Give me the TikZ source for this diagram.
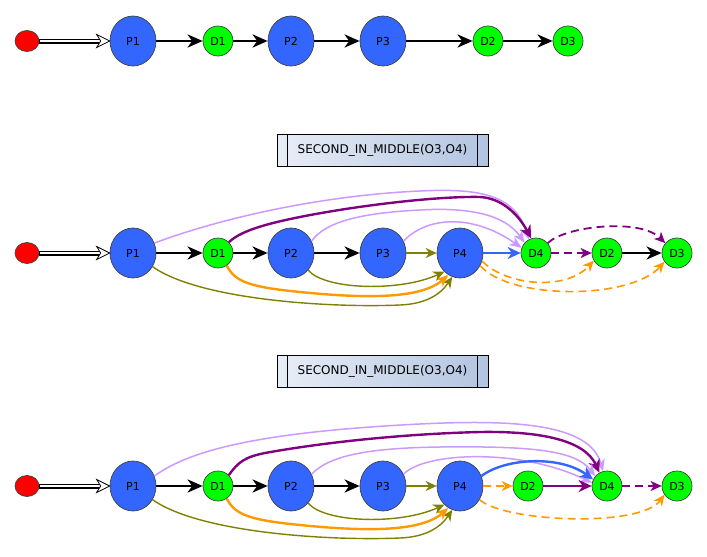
\documentclass[tikz,border=0pt]{standalone}
\usepackage{fontspec}
\setmainfont{DejaVu Sans}
\usetikzlibrary{arrows.meta,shapes.geometric}
\definecolor{pblue}{HTML}{3366FF}
\definecolor{dgreen}{HTML}{00FF00}
\definecolor{lav}{HTML}{CC99FF}
\definecolor{purp}{HTML}{800080}
\definecolor{oliv}{HTML}{808000}
\definecolor{orng}{HTML}{FF9900}
\definecolor{boxl}{HTML}{E8EEF7}
\definecolor{boxr}{HTML}{B2C4E0}
% open, notched head at the west side of a node (for the initial flow)
\newcommand{\openhead}[1]{%
  \draw[line width=0.8pt, fill=white, line join=miter]
    ([xshift=-13pt, yshift=6.5pt]#1.west) -- (#1.west) --
    ([xshift=-13pt, yshift=-6.5pt]#1.west) -- ([xshift=-9pt]#1.west) -- cycle;}
\begin{document}
\begin{tikzpicture}[x=1pt,y=-1pt,
  proc/.style={ellipse, draw=black!75, line width=0.7pt, fill=pblue,
    minimum width=46pt, minimum height=50pt, inner sep=0pt,
    font=\fontsize{11}{13}\selectfont},
  data/.style={circle, draw=black!75, line width=0.7pt, fill=dgreen,
    minimum size=30pt, inner sep=0pt, font=\fontsize{11}{13}\selectfont},
  start/.style={ellipse, draw=black!75, line width=0.7pt, fill=red,
    minimum width=24pt, minimum height=21pt, inner sep=0pt},
  opbox/.style={draw=black, line width=0.8pt, minimum width=211pt,
    minimum height=32pt, inner sep=0pt, left color=boxl, right color=boxr,
    font=\fontsize{12}{14}\selectfont,
    path picture={
      \draw[line width=0.8pt]
        ([xshift=10.5pt]path picture bounding box.north west) --
        ([xshift=10.5pt]path picture bounding box.south west);
      \draw[line width=0.8pt]
        ([xshift=-10.5pt]path picture bounding box.north east) --
        ([xshift=-10.5pt]path picture bounding box.south east);}},
  initshaft/.style={line width=5pt, shorten >=9.5pt},
  initcore/.style={white, line width=2.6pt, shorten >=9.5pt, shorten <=0.6pt},
  flow/.style={line width=2.8pt, -{Stealth[length=15pt, width=13pt, inset=4.5pt]}},
  lavedge/.style={lav, line width=1.5pt, -{Stealth[length=12pt, width=10pt, inset=3.5pt]}},
  purpedge/.style={purp, line width=2.4pt, -{Stealth[length=13pt, width=12pt, inset=4pt]}},
  purpdash/.style={purp, line width=1.8pt, dash pattern=on 8pt off 5pt,
    -{Stealth[length=11pt, width=10pt, inset=3pt]}},
  oliveedge/.style={oliv, line width=1.4pt, -{Stealth[length=11pt, width=10pt, inset=3.5pt]}},
  orngedge/.style={orng, line width=2.4pt, -{Stealth[length=12pt, width=10pt, inset=3.5pt]}},
  orngdash/.style={orng, line width=1.6pt, dash pattern=on 8pt off 5pt,
    -{Stealth[length=11pt, width=10pt, inset=3.5pt]}},
  blueedge/.style={pblue, line width=2.4pt, -{Stealth[length=13pt, width=12pt, inset=4pt]}}
]
\useasboundingbox (0,0) rectangle (707,557);

% ---------- original sequence ----------
\node[start] (Sa)  at (27,41)  {};
\node[proc]  (P1a) at (133,41) {P1};
\node[data]  (D1a) at (218,41) {D1};
\node[proc]  (P2a) at (291,41) {P2};
\node[proc]  (P3a) at (383,41) {P3};
\node[data]  (D2a) at (488,41) {D2};
\node[data]  (D3a) at (568,41) {D3};

\draw[initshaft] (Sa) -- (P1a);
\draw[initcore] (Sa) -- (P1a);
\openhead{P1a}
\draw[flow] (P1a) -- (D1a);
\draw[flow] (D1a) -- (P2a);
\draw[flow] (P2a) -- (P3a);
\draw[flow] (P3a) -- (D2a);
\draw[flow] (D2a) -- (D3a);

% ---------- first transformation ----------
\node[opbox] (op1) at (382.5,150) {SECOND\_IN\_MIDDLE(O3,O4)};

\node[start] (Sb)  at (27,253)  {};
\node[proc]  (P1b) at (133,253) {P1};
\node[data]  (D1b) at (218,253) {D1};
\node[proc]  (P2b) at (291,253) {P2};
\node[proc]  (P3b) at (383,253) {P3};
\node[proc]  (P4b) at (460,253) {P4};
\node[data]  (D4b) at (536,253) {D4};
\node[data]  (D2b) at (607,253) {D2};
\node[data]  (D3b) at (677,253) {D3};

% dependencies arching above
\draw[lavedge] (P1b.25) .. controls (230,215) and (330,195) .. (420,191)
  .. controls (480,188) and (515,195) .. (D4b.118);
\draw[purpedge] (D1b.45) .. controls (240,232) and (260,225) .. (300,217)
  .. controls (360,205) and (440,196) .. (480,197)
  .. controls (500,198) and (517,212) .. (D4b.108);
\draw[lavedge] (P2b.30) .. controls (325,222) and (360,213) .. (420,210)
  .. controls (470,207) and (505,215) .. (D4b.138);
\draw[lavedge] (P3b.30) .. controls (425,218) and (470,212) .. (D4b.160);
\draw[purpdash] (D4b.40) .. controls (565,226) and (640,218) .. (D3b.140);

% dependencies arching below
\draw[oliveedge] (P1b.-35) .. controls (200,300) and (330,308) .. (400,305)
  .. controls (425,304) and (440,295) .. (P4b.252);
\draw[orngedge] (D1b.-55) .. controls (235,282) and (250,287) .. (300,292)
  .. controls (360,298) and (420,300) .. (P4b.242);
\draw[oliveedge] (P2b.-45) .. controls (325,290) and (400,292) .. (P4b.230);
\draw[orngdash] (P4b.-20) .. controls (505,285) and (565,292) .. (D2b.210);
\draw[orngdash] (P4b.-32) .. controls (510,300) and (630,300) .. (D3b.215);

% main chain
\draw[initshaft] (Sb) -- (P1b);
\draw[initcore] (Sb) -- (P1b);
\openhead{P1b}
\draw[flow] (P1b) -- (D1b);
\draw[flow] (D1b) -- (P2b);
\draw[flow] (P2b) -- (P3b);
\draw[oliveedge] (P3b) -- (P4b);
\draw[blueedge] (P4b) -- (D4b);
\draw[purpdash] (D4b) -- (D2b);
\draw[flow] (D2b) -- (D3b);

% ---------- second transformation ----------
\node[opbox] (op2) at (382.5,371) {SECOND\_IN\_MIDDLE(O3,O4)};

\node[start] (Sc)  at (27,486)  {};
\node[proc]  (P1c) at (133,486) {P1};
\node[data]  (D1c) at (218,486) {D1};
\node[proc]  (P2c) at (291,486) {P2};
\node[proc]  (P3c) at (383,486) {P3};
\node[proc]  (P4c) at (460,486) {P4};
\node[data]  (D2c) at (528,486) {D2};
\node[data]  (D4c) at (607,486) {D4};
\node[data]  (D3c) at (677,486) {D3};

% dependencies arching above
\draw[lavedge] (P1c.25) .. controls (190,450) and (260,432) .. (420,424)
  .. controls (520,419) and (590,425) .. (D4c.105);
\draw[purpedge] (D1c.45) .. controls (238,462) and (245,457) .. (265,453)
  .. controls (320,443) and (400,434) .. (480,432)
  .. controls (540,431) and (585,440) .. (D4c.120);
\draw[lavedge] (P2c.30) .. controls (330,455) and (370,448) .. (440,447)
  .. controls (530,446) and (575,450) .. (D4c.140);
\draw[lavedge] (P3c.30) .. controls (425,452) and (520,448) .. (D4c.168);
\draw[blueedge] (P4c.25) .. controls (505,458) and (560,455) .. (D4c.155);

% dependencies arching below
\draw[oliveedge] (P1c.-35) .. controls (200,533) and (330,541) .. (400,538)
  .. controls (425,537) and (440,528) .. (P4c.252);
\draw[orngedge] (D1c.-55) .. controls (235,515) and (250,520) .. (300,525)
  .. controls (360,531) and (420,533) .. (P4c.242);
\draw[oliveedge] (P2c.-45) .. controls (325,523) and (400,525) .. (P4c.230);
\draw[orngdash] (P4c.-35) .. controls (505,522) and (640,528) .. (D3c.215);

% main chain
\draw[initshaft] (Sc) -- (P1c);
\draw[initcore] (Sc) -- (P1c);
\openhead{P1c}
\draw[flow] (P1c) -- (D1c);
\draw[flow] (D1c) -- (P2c);
\draw[flow] (P2c) -- (P3c);
\draw[oliveedge] (P3c) -- (P4c);
\draw[orngdash] (P4c) -- (D2c);
\draw[purpedge] (D2c) -- (D4c);
\draw[purpdash] (D4c) -- (D3c);
\end{tikzpicture}
\end{document}
